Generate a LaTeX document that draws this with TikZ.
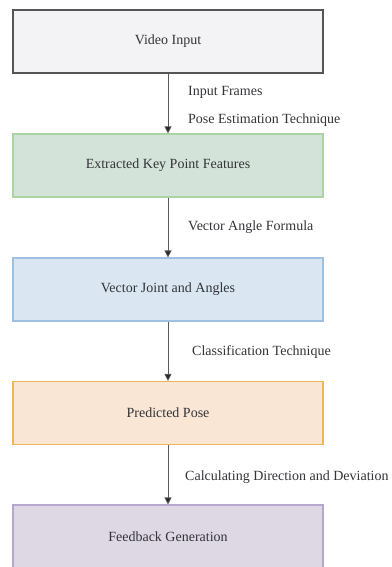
\documentclass[tikz,border=0pt]{standalone}
\usepackage{fontspec}
\setmainfont{Liberation Serif}
\usetikzlibrary{arrows.meta}
\definecolor{txt}{HTML}{333338}
\definecolor{grayfill}{HTML}{F3F3F5}
\definecolor{grayline}{HTML}{555555}
\definecolor{greenfill}{HTML}{D4E3DA}
\definecolor{greenline}{HTML}{A8D5A2}
\definecolor{bluefill}{HTML}{DAE6F2}
\definecolor{blueline}{HTML}{9DC0E3}
\definecolor{orangefill}{HTML}{FAE6D5}
\definecolor{orangeline}{HTML}{F0B45A}
\definecolor{purplefill}{HTML}{DDD8E4}
\definecolor{purpleline}{HTML}{B5A8CC}
\begin{document}
\begin{tikzpicture}[x=1pt,y=-1pt,
  stagebox/.style={draw, line width=1.1pt, minimum width=310pt, minimum height=63pt,
    inner sep=0pt, text=txt, font=\fontsize{14}{16}\selectfont},
  flow/.style={draw=black!65, line width=0.8pt, -{Triangle[length=7pt,width=7pt,fill=black!85]}},
  steplabel/.style={anchor=west, text=txt, font=\fontsize{14}{16}\selectfont, inner sep=0pt}]
  \useasboundingbox (0,0) rectangle (391,567);
  \begin{scope}
  \clip (0,0) rectangle (391,567);
  \node[stagebox, draw=grayline, fill=grayfill] (video) at (168,41.5) {Video Input};
  \node[stagebox, draw=greenline, fill=greenfill] (keys) at (168,165.5) {Extracted Key Point Features};
  \node[stagebox, draw=blueline, fill=bluefill] (angles) at (168,289.5) {Vector Joint and Angles};
  \node[stagebox, draw=orangeline, fill=orangefill] (pose) at (168,413) {Predicted Pose};
  \node[stagebox, draw=purpleline, fill=purplefill] (feedback) at (168,536.5) {Feedback Generation};

  \draw[flow] (video) -- (keys);
  \draw[flow] (keys) -- (angles);
  \draw[flow] (angles) -- (pose);
  \draw[flow] (pose) -- (feedback);

  \node[steplabel] (l1) at (188,92) {Input Frames};
  \node[steplabel] (l2) at (188,120) {Pose Estimation Technique};
  \node[steplabel] (l3) at (188,227) {Vector Angle Formula};
  \node[steplabel] (l4) at (192,352) {Classification Technique};
  \node[steplabel] (l5) at (185,477) {Calculating Direction and Deviation};
  \end{scope}
\end{tikzpicture}
\end{document}
